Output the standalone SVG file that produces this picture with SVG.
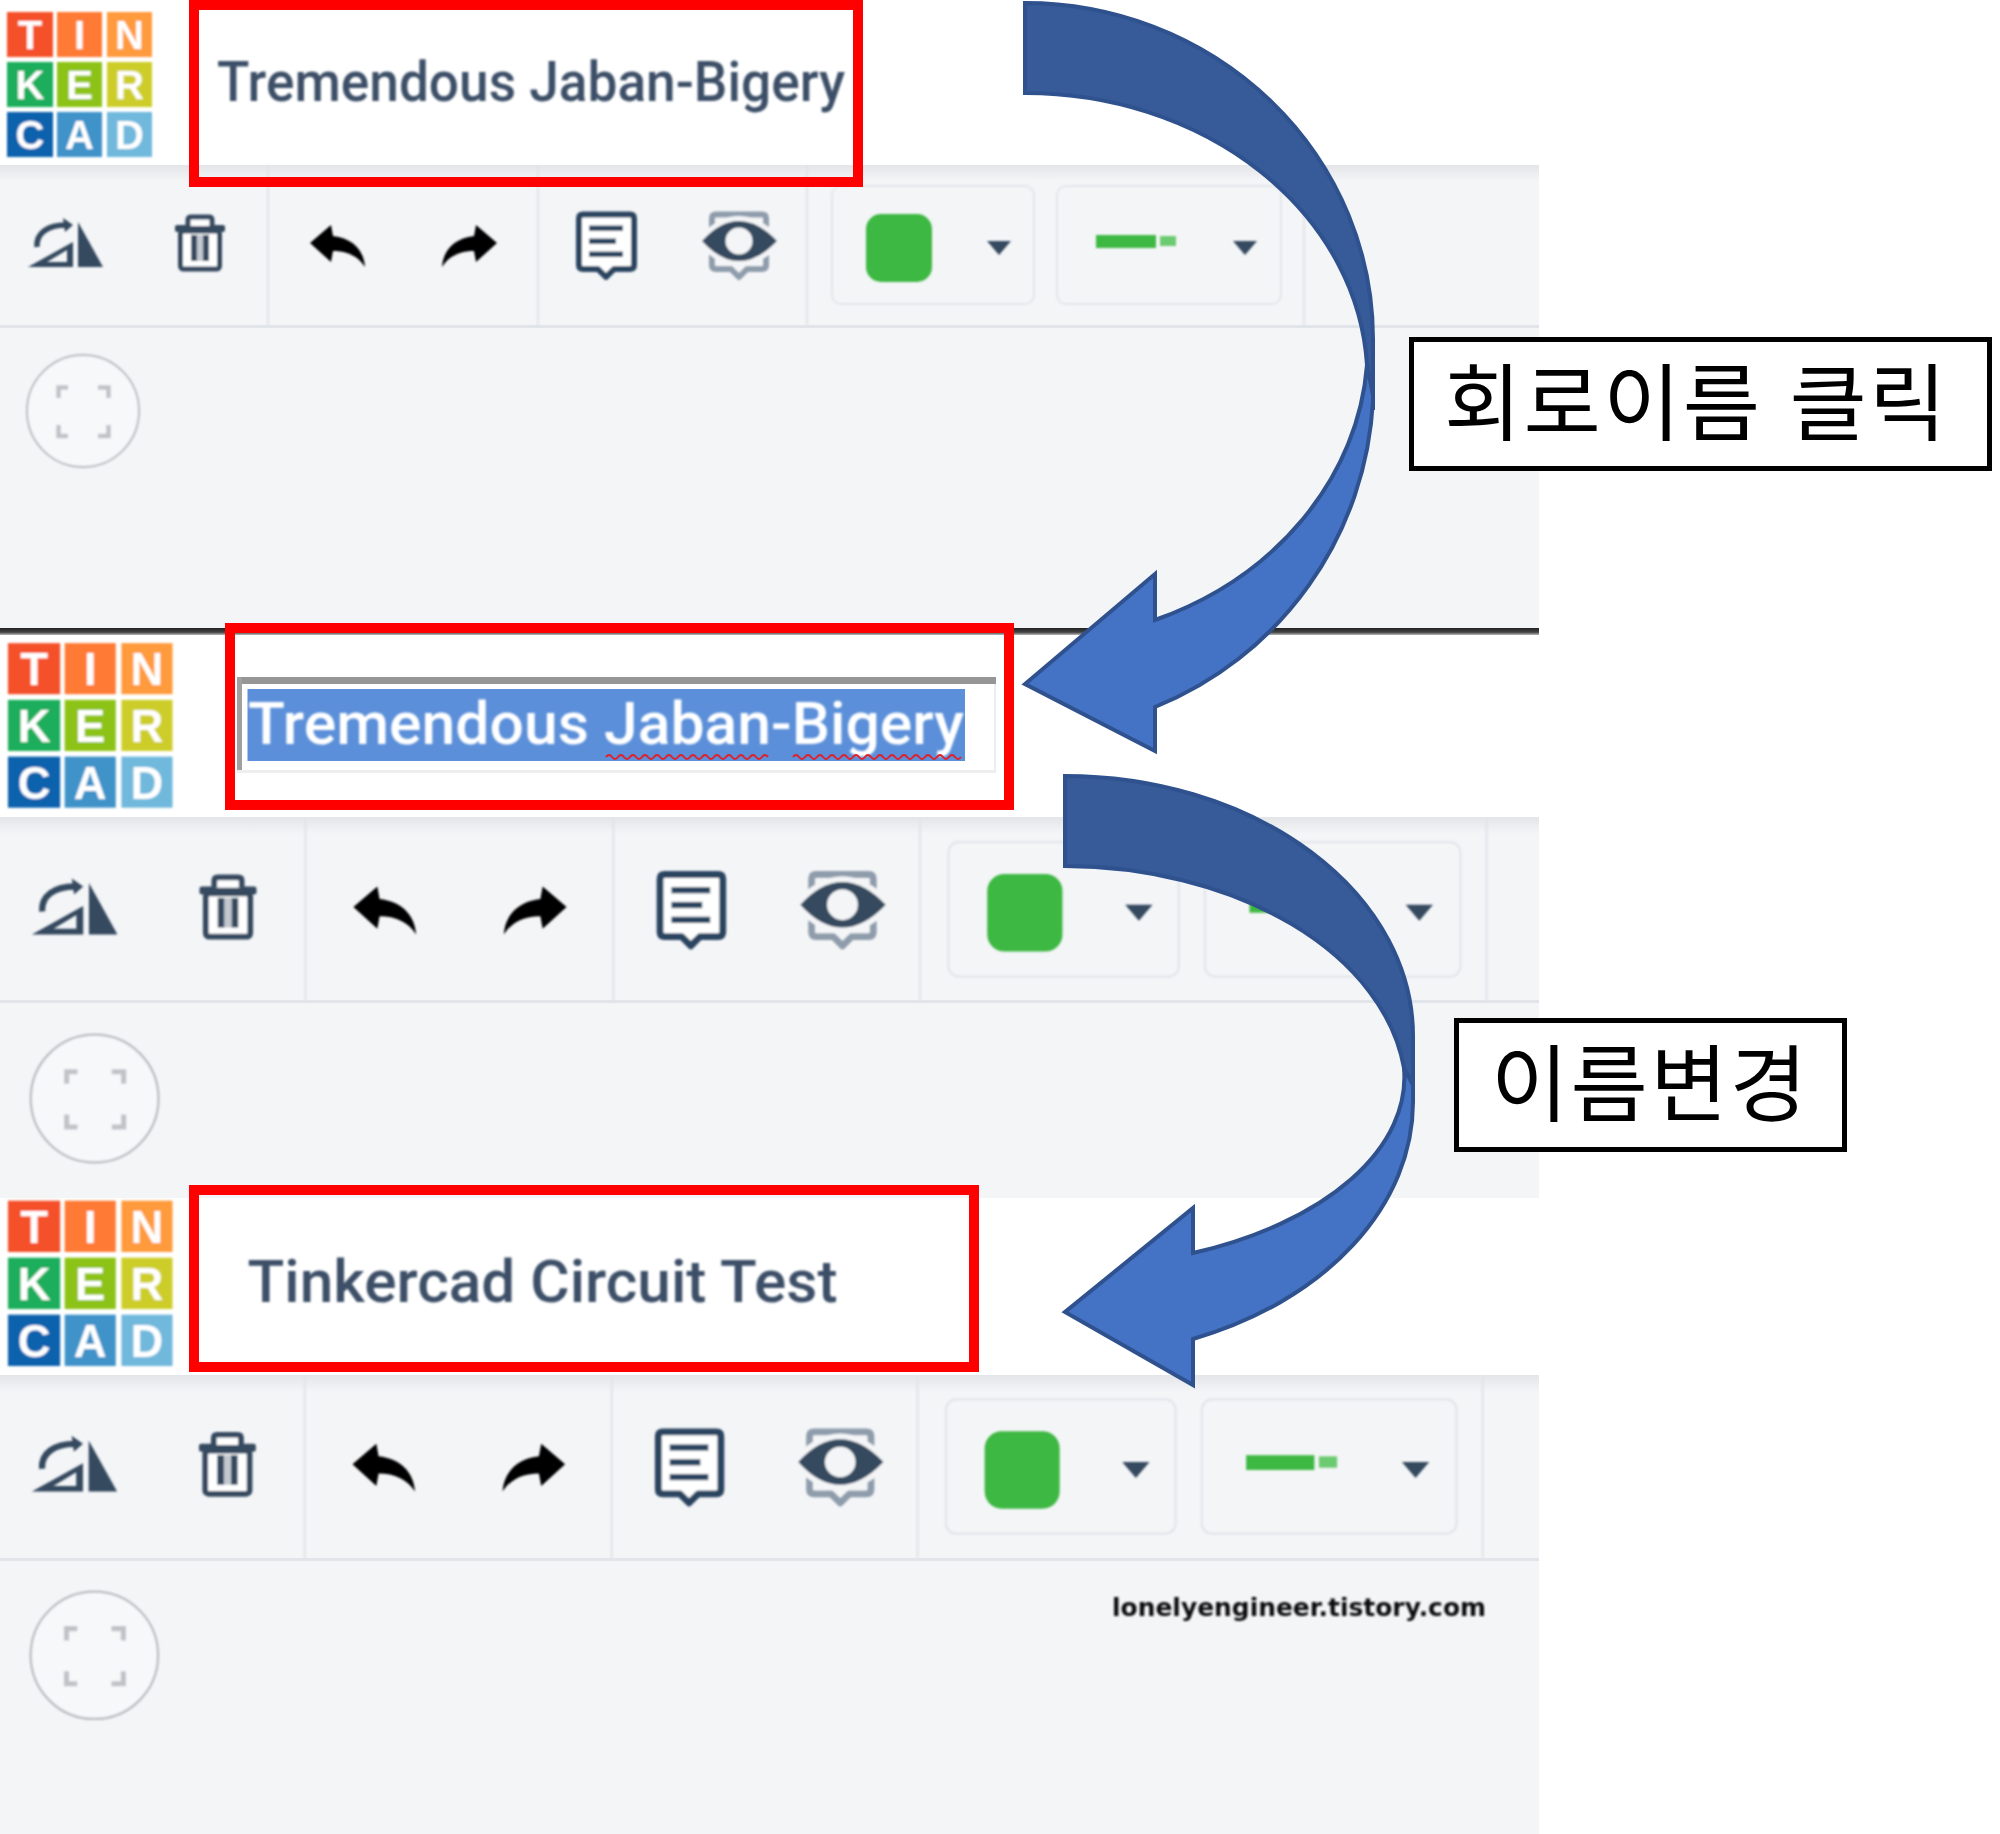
<svg xmlns="http://www.w3.org/2000/svg" width="2000" height="1834" viewBox="0 0 2000 1834">
<style>
.bg{fill:#f4f5f7}
.rule{fill:#e1e4e9}
.red{fill:none;stroke:#ff0000;stroke-width:10}
.title{font-family:Roboto,"Liberation Sans",sans-serif;font-weight:500;fill:#3c5068}
.logo{font-family:"Liberation Sans",Arial,sans-serif;font-weight:700;font-size:40px;fill:#fff;text-anchor:middle}
.lab{fill:#fff;stroke:#000;stroke-width:5}
.ko{font-family:"Noto Sans CJK KR",sans-serif;font-size:84px;fill:#000}
.wm{font-family:"DejaVu Sans",sans-serif;font-weight:700;font-size:25px;fill:#111}
.dark{fill:#365b98;stroke:#2f528f;stroke-width:4;stroke-linejoin:miter}
.light{fill:#4472c4;stroke:#2f528f;stroke-width:4;stroke-linejoin:miter}
.ic{fill:#34495f}
.cell{fill:none;stroke:#e2e5ea;stroke-width:2}
.soft{filter:url(#soft)}
</style>
<defs>
<filter id="soft" x="-5%" y="-5%" width="110%" height="110%"><feGaussianBlur stdDeviation="0.8"/></filter>
<linearGradient id="sh" x1="0" y1="0" x2="0" y2="1"><stop offset="0" stop-color="#e4e5e8"/><stop offset="1" stop-color="#f4f5f7"/></linearGradient>
<linearGradient id="dk" x1="0" y1="0" x2="0" y2="1"><stop offset="0" stop-color="#222"/><stop offset=".6" stop-color="#444"/><stop offset="1" stop-color="#bbb"/></linearGradient>
<g id="tools">
<g fill="#e1e4e9"><rect x="267" y="165" width="2" height="162"/><rect x="537" y="165" width="2" height="162"/><rect x="806" y="165" width="2" height="162"/><rect x="1303" y="165" width="2" height="162"/></g>
<rect class="cell" x="832" y="186" width="202" height="118" rx="9"/>
<rect class="cell" x="1057" y="186" width="224" height="118" rx="9"/>
<!-- flip -->
<path class="ic" fill-rule="evenodd" d="M28 267L73 242V267ZM47 262H67V250Z"/>
<path class="ic" d="M78 222L103 267H78Z"/>
<path d="M37 247C36 233 48 225 66 225" fill="none" stroke="#34495f" stroke-width="5.500"/>
<path class="ic" d="M63 218L73 225L65 232Z"/>
<!-- trash -->
<rect x="180.500" y="231" width="39" height="38" rx="3" fill="#fff" stroke="#34495f" stroke-width="5"/>
<rect class="ic" x="175" y="225" width="50" height="7" rx="2"/>
<path d="M188 226V220Q188 217 191 217H209Q212 217 212 220V226" fill="#fff" stroke="#34495f" stroke-width="5"/>
<rect class="ic" x="191" y="235" width="6" height="26"/>
<rect class="ic" x="203" y="235" width="6" height="26"/>
<rect x="197" y="235" width="6" height="26" fill="#c2c8cf"/>
<!-- undo redo -->
<path d="M310 243L331 225L333 236C352 238 364 250 365 267C358 256 347 251 333 251L331 262Z" fill="#000"/>
<path d="M497 243L476 225L474 236C455 238 443 250 442 267C449 256 460 251 474 251L476 262Z" fill="#000"/>
<!-- note -->
<path d="M583 214.500H630Q634 214.500 634 218.500V265Q634 269 630 269H614L606 277L598 269H583Q579 269 579 265V218.500Q579 214.500 583 214.500Z" fill="#fff" stroke="#2c4560" stroke-width="6" stroke-linejoin="round"/>
<g fill="#2c4560"><rect x="589" y="225.500" width="34" height="5.500"/><rect x="589" y="238.500" width="27" height="5.500"/><rect x="589" y="251.500" width="34" height="5.500"/></g>
<!-- eye -->
<path d="M716 214.500H762Q766 214.500 766 218.500V265Q766 269 762 269H747L739 277L731 269H716Q712 269 712 265V218.500Q712 214.500 716 214.500Z" fill="#f4f5f7" stroke="#8e9cab" stroke-width="6" stroke-linejoin="round"/>
<path d="M702 241Q720 221 739 221T777 241Q758 261 739 261T702 241Z" fill="#f4f5f7" stroke="#f4f5f7" stroke-width="10"/>
<path d="M702 241Q720 221 739 221T777 241Q758 261 739 261T702 241Z" class="ic"/>
<circle cx="739" cy="241" r="13.500" fill="#f4f5f7"/>
<!-- colour -->
<rect x="866" y="214" width="66" height="68" rx="15" fill="#3db843"/>
<path class="ic" d="M987 241H1011L999 255Z"/>
<rect x="1096" y="235" width="60" height="13" fill="#3db843"/>
<rect x="1160" y="236" width="16" height="10" fill="#6ccb6f"/>
<path class="ic" d="M1233 241H1257L1245 255Z"/>
<!-- fit -->
<circle cx="83" cy="411" r="56" fill="#f7f8fa" stroke="#b9bbbf" stroke-width="2"/>
<path d="M68 387.500H58.500V398M98 387.500H108.500V398M58.500 425V436H68M108.500 425V436H98" fill="none" stroke="#bfc2c7" stroke-width="4.500"/>
</g>
</defs>
<rect width="2000" height="1834" fill="#fff"/>

<g id="panel-1">
<rect class="bg" x="0" y="165" width="1539" height="463"/>
<rect x="0" y="165" width="1539" height="16" fill="url(#sh)"/>
<rect class="rule" x="0" y="325" width="1539" height="3"/>
<use class="soft" href="#tools"/>
<g id="logo-1" class="soft">
<rect x="7" y="12" width="46" height="45" fill="#f4512c"/><rect x="57" y="12" width="45" height="45" fill="#ff7a34"/><rect x="107" y="12" width="45" height="45" fill="#ff9a3c"/>
<rect x="7" y="62" width="46" height="45" fill="#1fae5b"/><rect x="57" y="62" width="45" height="45" fill="#8cc312"/><rect x="107" y="62" width="45" height="45" fill="#cdcd2c"/>
<rect x="7" y="112" width="46" height="45" fill="#0a62ad"/><rect x="57" y="112" width="45" height="45" fill="#3f93c9"/><rect x="107" y="112" width="45" height="45" fill="#6fb8dc"/>
<text class="logo" x="30" y="49">T</text><text class="logo" x="79.500" y="49">I</text><text class="logo" x="129.500" y="49">N</text>
<text class="logo" x="30" y="99">K</text><text class="logo" x="79.500" y="99">E</text><text class="logo" x="129.500" y="99">R</text>
<text class="logo" x="30" y="149">C</text><text class="logo" x="79.500" y="149">A</text><text class="logo" x="129.500" y="149">D</text>
</g>
<text class="title soft" x="217" y="101" font-size="55" textLength="628" lengthAdjust="spacingAndGlyphs">Tremendous Jaban-Bigery</text>
<rect class="red" x="194" y="5" width="664" height="177"/>
</g>

<g id="panel-2">
<rect x="0" y="628" width="1539" height="7" fill="url(#dk)"/>
<rect class="bg" x="0" y="817" width="1539" height="381"/>
<rect x="0" y="817" width="1539" height="17" fill="url(#sh)"/>
<rect class="rule" x="0" y="1000" width="1539" height="3"/>
<use class="soft" href="#tools" transform="translate(0 630) scale(1.14)"/>
<g id="logo-2" class="soft" transform="translate(0 629.500) scale(1.135)">
<rect x="7" y="12" width="46" height="45" fill="#f4512c"/><rect x="57" y="12" width="45" height="45" fill="#ff7a34"/><rect x="107" y="12" width="45" height="45" fill="#ff9a3c"/>
<rect x="7" y="62" width="46" height="45" fill="#1fae5b"/><rect x="57" y="62" width="45" height="45" fill="#8cc312"/><rect x="107" y="62" width="45" height="45" fill="#cdcd2c"/>
<rect x="7" y="112" width="46" height="45" fill="#0a62ad"/><rect x="57" y="112" width="45" height="45" fill="#3f93c9"/><rect x="107" y="112" width="45" height="45" fill="#6fb8dc"/>
<text class="logo" x="30" y="49">T</text><text class="logo" x="79.500" y="49">I</text><text class="logo" x="129.500" y="49">N</text>
<text class="logo" x="30" y="99">K</text><text class="logo" x="79.500" y="99">E</text><text class="logo" x="129.500" y="99">R</text>
<text class="logo" x="30" y="149">C</text><text class="logo" x="79.500" y="149">A</text><text class="logo" x="129.500" y="149">D</text>
</g>
<rect x="237" y="677" width="759" height="7" fill="#969696"/>
<rect x="237" y="677" width="5" height="94" fill="#a0a0a0"/>
<rect x="237" y="770" width="759" height="3" fill="#eeeeee"/>
<rect x="994" y="684" width="2" height="87" fill="#eeeeee"/>
<rect x="247.500" y="689" width="717.500" height="72" fill="#5b8fd9"/>
<text class="title soft" style="fill:#fff" x="248" y="744" font-size="60" textLength="716" lengthAdjust="spacingAndGlyphs">Tremendous Jaban-Bigery</text>
<path d="M606 757q3 -4 6 0t6 0t6 0t6 0t6 0t6 0t6 0t6 0t6 0t6 0t6 0t6 0t6 0t6 0t6 0t6 0t6 0t6 0t6 0t6 0t6 0t6 0t6 0t6 0t6 0t6 0t6 0M793 757q3 -4 6 0t6 0t6 0t6 0t6 0t6 0t6 0t6 0t6 0t6 0t6 0t6 0t6 0t6 0t6 0t6 0t6 0t6 0t6 0t6 0t6 0t6 0t6 0t6 0t6 0t6 0t6 0t6 0" fill="none" stroke="#e0202a" stroke-width="2"/>
<rect class="red" x="230" y="628" width="779" height="177"/>
</g>

<g id="panel-3">
<rect x="0" y="1198" width="1539" height="177" fill="#fff"/>
<rect class="bg" x="0" y="1375" width="1539" height="459"/>
<rect x="0" y="1375" width="1539" height="17" fill="url(#sh)"/>
<rect class="rule" x="0" y="1558" width="1539" height="3"/>
<use class="soft" href="#tools" transform="translate(0 1188) scale(1.137)"/>
<g id="logo-3" class="soft" transform="translate(0 1187) scale(1.135 1.14)">
<rect x="7" y="12" width="46" height="45" fill="#f4512c"/><rect x="57" y="12" width="45" height="45" fill="#ff7a34"/><rect x="107" y="12" width="45" height="45" fill="#ff9a3c"/>
<rect x="7" y="62" width="46" height="45" fill="#1fae5b"/><rect x="57" y="62" width="45" height="45" fill="#8cc312"/><rect x="107" y="62" width="45" height="45" fill="#cdcd2c"/>
<rect x="7" y="112" width="46" height="45" fill="#0a62ad"/><rect x="57" y="112" width="45" height="45" fill="#3f93c9"/><rect x="107" y="112" width="45" height="45" fill="#6fb8dc"/>
<text class="logo" x="30" y="49">T</text><text class="logo" x="79.500" y="49">I</text><text class="logo" x="129.500" y="49">N</text>
<text class="logo" x="30" y="99">K</text><text class="logo" x="79.500" y="99">E</text><text class="logo" x="129.500" y="99">R</text>
<text class="logo" x="30" y="149">C</text><text class="logo" x="79.500" y="149">A</text><text class="logo" x="129.500" y="149">D</text>
</g>
<text class="title soft" x="247.500" y="1302" font-size="60" textLength="590" lengthAdjust="spacingAndGlyphs">Tinkercad Circuit Test</text>
<rect class="red" x="194" y="1190" width="780" height="177"/>
</g>

<g id="connectors">
<path class="dark" d="M1025 3A348 336 0 0 1 1373 339V410L1367 365A342 287 0 0 0 1025 93Z"/>
<path class="light" d="M1367 365L1373 395V400A349 350 0 0 1 1155 707V751L1025 684L1155 574V620A341 297 0 0 0 1367 365Z"/>
<path class="dark" d="M1065 776A348 260 0 0 1 1413 1036V1100L1404 1068A343 229 0 0 0 1065 866Z"/>
<path class="light" d="M1404 1068L1413 1085V1102A349 255 0 0 1 1193 1339V1385L1065 1312L1193 1208V1253A340 190 0 0 0 1404 1068Z"/>
</g>

<g id="label-1">
<rect class="lab" x="1411.500" y="339.500" width="578" height="129"/>
<text class="ko" x="1444" y="434" letter-spacing="2.300">회로이름 <tspan dx="6">클릭</tspan></text>
</g>
<g id="label-2">
<rect class="lab" x="1456.500" y="1020.500" width="388" height="129"/>
<text class="ko" x="1491" y="1115" textLength="316">이름변경</text>
</g>
<g id="watermark">
<text class="wm soft" x="1112" y="1616" textLength="374" lengthAdjust="spacingAndGlyphs">lonelyengineer.tistory.com</text>
</g>
</svg>
